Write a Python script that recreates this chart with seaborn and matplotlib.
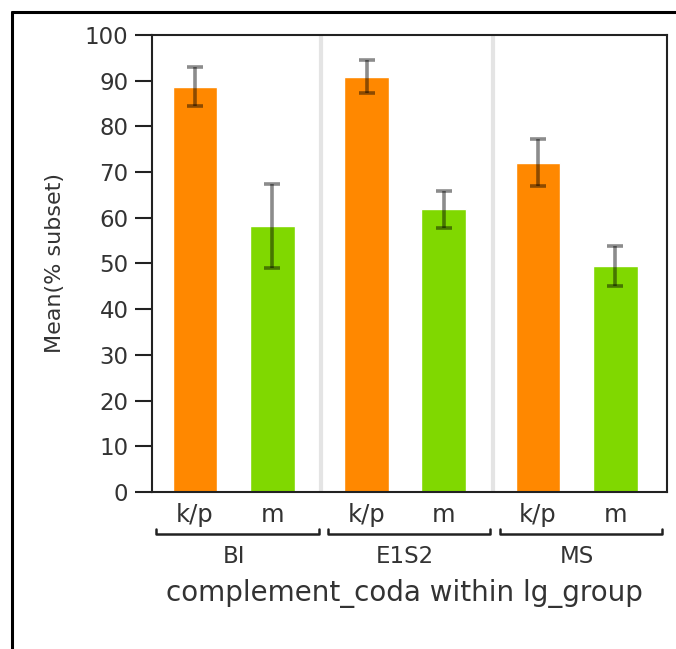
import numpy as np
import pandas as pd
import matplotlib
matplotlib.use('Agg')
import matplotlib.pyplot as plt
import matplotlib.lines as mlines
import seaborn as sns

# --- data ---
lg_groups = ['BI', 'E1S2', 'MS']
codas = ['k/p', 'm']
mean_kp = [88.7, 90.7, 71.9]
mean_m = [58.1, 61.9, 49.5]
lo_kp = [84.5, 87.4, 67.0]
hi_kp = [93.1, 94.5, 77.2]
lo_m = [49.1, 57.8, 45.1]
hi_m = [67.4, 65.9, 53.8]

df = pd.DataFrame({
    'lg_group': lg_groups * 2,
    'complement_coda': [codas[0]] * 3 + [codas[1]] * 3,
    'mean': mean_kp + mean_m,
    'lo': lo_kp + lo_m,
    'hi': hi_kp + hi_m,
})

sns.set_theme(style='white')
plt.rcParams['font.family'] = ['DejaVu Sans']
txt = '#333333'

fig = plt.figure(figsize=(6.76, 6.49), dpi=100)
ax = fig.add_axes([0.2249, 0.2419, 0.7618, 0.7042])

sns.barplot(data=df, x='lg_group', y='mean', hue='complement_coda',
            order=lg_groups, hue_order=codas,
            palette={'k/p': '#FF8800', 'm': '#80D800'},
            saturation=1, width=0.9, gap=0.42, errorbar=None,
            legend=False, ax=ax, zorder=2)

# error bars placed on the bar centres drawn by seaborn
for container, coda in zip(ax.containers, codas):
    sub = df[df['complement_coda'] == coda].set_index('lg_group').loc[lg_groups]
    xs = [p.get_x() + p.get_width() / 2 for p in container.patches]
    ys = sub['mean'].values
    yerr = [ys - sub['lo'].values, sub['hi'].values - ys]
    ax.errorbar(xs, ys, yerr=yerr, fmt='none', ecolor=(0, 0, 0, 0.45),
                elinewidth=2.6, capsize=5.5, capthick=2.6, zorder=3)

# light separators between groups
for xv in [0.51, 1.51]:
    ax.axvline(xv, color='#e4e4e4', lw=3, zorder=0)

ax.set_xlim(-0.4756, 2.5265)
ax.set_ylim(0, 100)
ax.set_yticks(np.arange(0, 101, 10))
ax.tick_params(axis='y', direction='out', length=12, width=1.5, color='#222222',
               labelsize=16.5, labelcolor=txt, pad=5, left=True)
ax.set_xticks([])
ax.set_xlabel('')
ax.set_ylabel('')
for s in ax.spines.values():
    s.set_visible(True)
    s.set_color('#222222')
    s.set_linewidth(1.5)

# hierarchical x labels
trans = ax.get_xaxis_transform()
for g, name in enumerate(lg_groups):
    ax.text(g - 0.225, -0.050, codas[0], transform=trans, ha='center', va='center',
            fontsize=17.5, color=txt)
    ax.text(g + 0.225, -0.050, codas[1], transform=trans, ha='center', va='center',
            fontsize=17.5, color=txt)
    bx = [g - 0.45, g - 0.45, g + 0.495, g + 0.495]
    by = [-0.081, -0.0919, -0.0919, -0.081]
    ax.add_line(mlines.Line2D(bx, by, transform=trans, color='#222222', lw=1.8,
                              clip_on=False))
    ax.text(g, -0.142, name, transform=trans, ha='center', va='center',
            fontsize=16.5, color=txt)

ax.text(0.49, -0.221, 'complement_coda within lg_group', transform=ax.transAxes,
        ha='center', va='center', fontsize=20, color=txt)
ax.text(-0.188, 0.5, 'Mean(% subset)', transform=ax.transAxes, rotation=90,
        ha='center', va='center', fontsize=16, color=txt)

# outer frame (left and top edges)
fig.add_artist(mlines.Line2D([12 / 676, 12 / 676], [0, 1 - 12 / 649],
                             transform=fig.transFigure, color='black', lw=2.2))
fig.add_artist(mlines.Line2D([12 / 676, 1], [1 - 12 / 649, 1 - 12 / 649],
                             transform=fig.transFigure, color='black', lw=2.2))

fig.savefig('out.png', dpi=100)
